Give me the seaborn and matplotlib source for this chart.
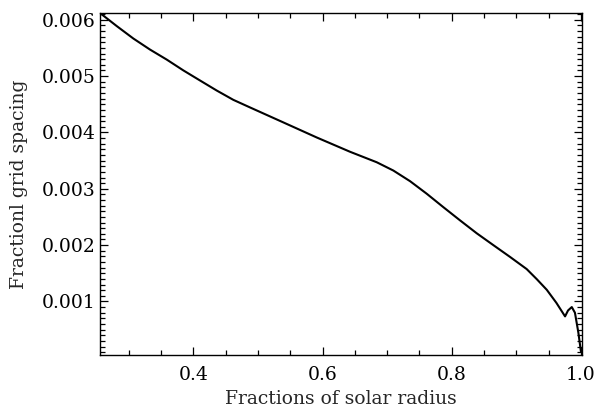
import matplotlib
matplotlib.use("Agg")
import matplotlib.pyplot as plt
from matplotlib.ticker import MultipleLocator, FixedLocator
import seaborn as sns
import pandas as pd

radius = [0.2556, 0.2815, 0.3071, 0.3330, 0.3589, 0.3845, 0.4103, 0.4361,
          0.4619, 0.4878, 0.5394, 0.5910, 0.6426, 0.6839, 0.7096, 0.7355,
          0.7613, 0.7870, 0.8129, 0.8387, 0.8644, 0.8903, 0.9160, 0.9316,
          0.9471, 0.9620, 0.9754, 0.9800, 0.9858, 0.9907, 0.9960, 0.9999]
spacing = [0.00612, 0.005888, 0.005668, 0.005471, 0.005293, 0.005102, 0.004923, 0.004745,
           0.004579, 0.004444, 0.004178, 0.003911, 0.003657, 0.003471, 0.003324, 0.003135,
           0.002912, 0.002674, 0.002439, 0.002210, 0.002000, 0.001790, 0.001575, 0.001396,
           0.001207, 0.000975, 0.000735, 0.000840, 0.000901, 0.000800, 0.000446, 0.000115]

x_ticks = [0.4, 0.6, 0.8, 1.0]
x_labels = ["0.4", "0.6", "0.8", "1.0"]
y_ticks = [0.001, 0.002, 0.003, 0.004, 0.005, 0.006]
y_labels = ["0.001", "0.002", "0.003", "0.004", "0.005", "0.006"]

df = pd.DataFrame({"r": radius, "dr": spacing})

sns.set_style("ticks")
plt.rcParams["font.family"] = ["DejaVu Serif"]

fig = plt.figure(figsize=(5.95, 4.07), dpi=100)
ax = fig.add_axes([0.168, 0.1278, 0.8097, 0.8402])
sns.lineplot(data=df, x="r", y="dr", ax=ax, color="black", linewidth=1.5)

ax.set_xlim(0.2555, 1.0012)
ax.set_ylim(0.00005, 0.00612)
ax.xaxis.set_major_locator(FixedLocator(x_ticks))
ax.set_xticklabels(x_labels)
ax.yaxis.set_major_locator(FixedLocator(y_ticks))
ax.set_yticklabels(y_labels)
ax.xaxis.set_minor_locator(MultipleLocator(0.05))
ax.yaxis.set_minor_locator(MultipleLocator(0.0001))

ax.tick_params(which="both", direction="in", top=True, right=True,
               labelsize=13.5, colors="black", width=0.9)
ax.tick_params(which="major", length=6)
ax.tick_params(which="minor", length=3.5)
ax.tick_params(axis="x", pad=8)
ax.tick_params(axis="y", pad=3)
for s in ax.spines.values():
    s.set_linewidth(1.0)
    s.set_color("black")

ax.set_xlabel("Fractions of solar radius", fontsize=13.5, labelpad=4)
ax.set_ylabel("Fractionl grid spacing", fontsize=13.5, labelpad=10)

fig.savefig("out.png", dpi=100)
